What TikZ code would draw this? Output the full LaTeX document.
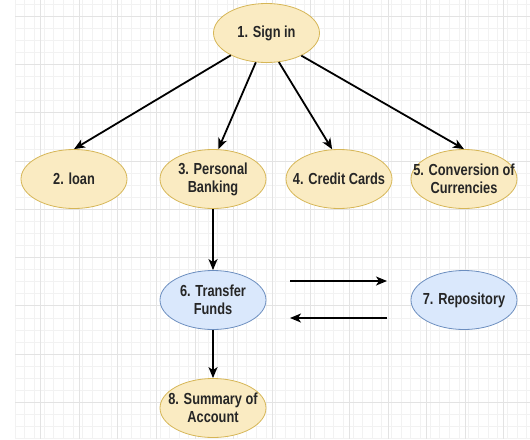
\documentclass[tikz,border=0pt]{standalone}
\usepackage{fontspec}
\setmainfont{Liberation Sans}[FakeStretch=0.8]
\usetikzlibrary{positioning,arrows.meta,shapes.geometric}

\definecolor{ylfill}{HTML}{FAEBC2}
\definecolor{yldraw}{HTML}{D6B656}
\definecolor{blfill}{HTML}{DAE8FC}
\definecolor{bldraw}{HTML}{6C8EBF}

\tikzset{
  oval/.style={ellipse,draw=yldraw,fill=ylfill,line width=0.8pt,minimum width=106pt,minimum height=59pt,inner xsep=-14pt,inner ysep=-4pt,align=center,
    font=\fontsize{16}{18}\selectfont\bfseries,text=black!85},
  ovalb/.style={oval,draw=bldraw,fill=blfill},
  arr/.style={line width=1.8pt,-{Stealth[length=11pt,width=9pt,inset=3pt]}}
}

\begin{document}
\begin{tikzpicture}[x=1pt,y=-1pt]
        \useasboundingbox (0,0) rectangle (530,439);
        \fill[white] (0,0) rectangle (530,439);
        % background grid
        \foreach \i in {0,...,53} \draw[black!5,line width=0.5pt] (15+9.65*\i,0) -- (15+9.65*\i,439);
        \foreach \j in {-1,...,36} \draw[black!5,line width=0.5pt] (15,16+12.07*\j) -- (530,16+12.07*\j);
        \foreach \i in {0,...,12} \draw[black!11,line width=0.7pt] (40.5+38.6*\i,0) -- (40.5+38.6*\i,439);
        \foreach \j in {0,...,8} \draw[black!11,line width=0.7pt] (15,16+48.3*\j) -- (530,16+48.3*\j);

        \node[oval] (s) at (266.5,33) {1. Sign in};
        \node[oval] (l) at (74,179) {2. loan};
        \node[oval] (p) at (213,179) {3. Personal\\Banking};
        \node[oval] (c) at (339,179) {4. Credit Cards};
        \node[oval] (v) at (464,179) {5. Conversion of\\Currencies};
        \node[ovalb] (t) at (213,300) {6. Transfer\\Funds};
        \node[ovalb] (r) at (464,300) {7. Repository};
        \node[oval] (a) at (213,408) {8. Summary of\\Account};

        \coordinate (t1) at (290,281);\coordinate (r1) at (387,281);
        \coordinate (r2) at (387,318);\coordinate (t2) at (290,318);

        \draw[arr] (s.212)--(l.north);\draw[arr] (s.250)--(p.80);\draw[arr] (s.293)--(c.103);\draw[arr] (s.327)--(v.north);
        \draw[arr] (p.south)--(t.north);\draw[arr] (t.south)--(a.north);
        \draw[arr] (t1)--(r1);\draw[arr] (r2)--(t2);
      \end{tikzpicture}
\end{document}
